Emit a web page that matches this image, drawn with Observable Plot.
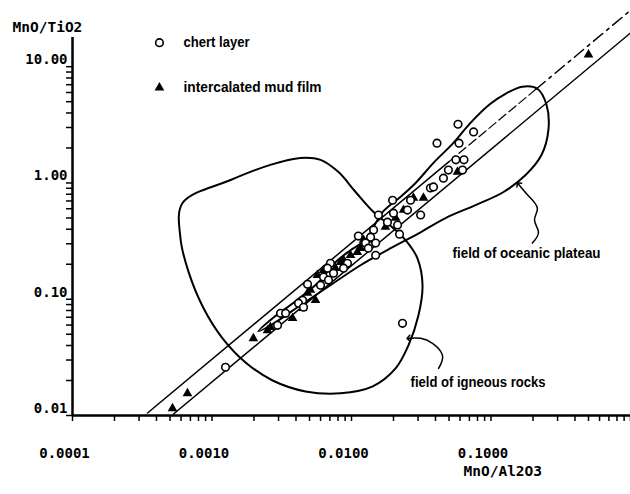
<!DOCTYPE html>
<html><head><meta charset="utf-8">
<script src="https://cdn.jsdelivr.net/npm/d3@7"></script>
<script src="https://cdn.jsdelivr.net/npm/@observablehq/plot@0.6"></script>
<style>
html,body{margin:0;padding:0;background:#fff;}
</style></head><body><div id="chart"></div>
<script>
// ---- data (MnO/Al2O3 = x, MnO/TiO2 = y) ----
const chertX = [0.058,0.075,0.041,0.059,0.064,0.056,0.0625,0.0495,0.0456,0.0368,0.0387,0.0313,0.0197,0.0265,0.0252,0.020,0.0181,0.0214,0.0156,0.0221,0.0144,0.0137,0.0126,0.0149,0.0132,0.0112,0.0149,0.00935,0.00877,0.00706,0.00673,0.00743,0.0063,0.006,0.00684,0.00484,0.00446,0.00417,0.00453,0.0031,0.00337,0.00295,0.0232,0.00125];
const chertY = [3.2,2.75,2.2,2.2,1.58,1.58,1.29,1.29,1.10,0.905,0.925,0.53,0.71,0.71,0.585,0.55,0.46,0.435,0.53,0.363,0.394,0.342,0.304,0.304,0.275,0.349,0.239,0.204,0.185,0.204,0.185,0.1675,0.155,0.132,0.146,0.1345,0.098,0.0925,0.0853,0.0757,0.0757,0.0597,0.062,0.026];
const mudX = [0.000521,0.000667,0.00198,0.0025,0.00262,0.00446,0.00552,0.00484,0.00508,0.0057,0.0063,0.00877,0.00984,0.0110,0.0122,0.0137,0.0175,0.0236,0.0278,0.0328,0.0575,0.5,0.00834,0.00767,0.0116,0.0207,0.00378];
const mudY = [0.0115,0.0155,0.0461,0.054,0.0574,0.0836,0.098,0.113,0.12,0.161,0.178,0.217,0.239,0.254,0.323,0.323,0.418,0.585,0.743,0.743,1.245,12.7,0.208,0.185,0.275,0.5,0.0686];

// field of igneous rocks (outline)
const igneousX = [6.15e-4,1.36e-3,2.62e-3,4.3e-3,6.0e-3,8.07e-3,0.0107,0.0144,0.0191,0.0244,0.0297,0.0323,0.0302,0.0256,0.0207,0.0142,0.00834,0.00468,0.00272,0.00174,0.00119,8.7e-4,6.8e-4,5.94e-4];
const igneousY = [0.673,1.06,1.43,1.64,1.58,1.24,0.836,0.562,0.426,0.323,0.225,0.132,0.0728,0.0401,0.0254,0.0178,0.0155,0.0161,0.02,0.0286,0.0461,0.0836,0.171,0.336];
// field of oceanic plateau (outline)
const plateauX = [0.00215,0.00272,0.00397,0.0058,0.00767,0.00984,0.0126,0.0167,0.0224,0.0288,0.0387,0.0538,0.0713,0.099,0.127,0.168,0.215,0.25,0.258,0.23,0.177,0.123,0.0775,0.0472,0.0288,0.0191,0.0116,0.00706,0.0043,0.00285];
const plateauY = [0.053,0.0686,0.0962,0.140,0.208,0.264,0.323,0.562,0.757,1.0,1.49,2.21,3.29,4.8,5.85,6.73,6.46,4.7,2.86,1.74,1.17,0.836,0.645,0.499,0.356,0.275,0.196,0.132,0.0887,0.0634];

// reference lines
const lineAX = [0.000345,0.05,0.21,0.97];
const lineAY = [0.0105,1.525,6.4,29.6];
const lineBX = [0.00053,1.0];
const lineBY = [0.0103,19.5];

// annotation arrows
const plateauArrowX = [0.198,0.219,0.205,0.215,0.186,0.157];
const plateauArrowY = [0.304,0.378,0.48,0.608,0.773,0.98];
const igneousArrowX = [0.0421,0.0449,0.0381,0.0313,0.0256];
const igneousArrowY = [0.0254,0.0329,0.0418,0.0461,0.0461];

// labels
const fieldLabels = ["field of oceanic plateau","field of igneous rocks"];
const fieldLabelX = [0.053,0.0265];
const fieldLabelY = [0.249,0.0192];
const legendLabels = ["chert layer","intercalated mud film"];
const legendSymX = 4.2e-4, legendTextX = 6.25e-4;
const legendY = [16.1,6.6];
const xTitle = "MnO/Al2O3", yTitle = "MnO/TiO2";
const xTitleX = 0.0635;

// ticks
const xDecades = [0.0001,0.001,0.01,0.1];
const xLabels = ["0.0001","0.0010","0.0100","0.1000"];
const yDecades = [0.01,0.1,1,10];
const yLabels = ["0.01","0.10","1.00","10.00"];
const mult = [1,2,3,4,5,6,7,8,9];
const xMinor = xDecades.flatMap(d => mult.map(m => d*m)).concat([1]);
const yMinor = [0.01,0.1,1].flatMap(d => mult.map(m => d*m)).concat([10]);

const pts = (xs, ys) => xs.map((x,i) => ({x, y: ys[i]}));
const chert = pts(chertX, chertY), mud = pts(mudX, mudY);
const igneous = pts(igneousX, igneousY), plateau = pts(plateauX, plateauY);
const lineA = pts(lineAX, lineAY), lineB = pts(lineBX, lineBY);

const mono = "'DejaVu Sans Mono', monospace";
const narrow = "'Liberation Sans', Arial, sans-serif";

const chart = Plot.plot({
  width: 630, height: 494,
  marginLeft: 72, marginRight: 0, marginTop: 5, marginBottom: 79,
  x: {type: "log", domain: [1e-4, 1], axis: null},
  y: {type: "log", domain: [0.01, 33.6], axis: null},
  style: {background: "white", color: "black"},
  marks: [
    // axes
    Plot.ruleY([0.01], {strokeWidth: 2.5}),
    Plot.ruleX([1e-4], {y1: 0.01, y2: 17.8, strokeWidth: 2.5}),
    Plot.axisX(xMinor, {tickSize: 6, strokeWidth: 1.5, tickFormat: () => "", label: null}),
    Plot.axisX(xDecades, {tickSize: 0, tickPadding: 33, dx: -8, label: null,
      tickFormat: d => xLabels[xDecades.indexOf(d)], fontFamily: mono, fontSize: 14, fontWeight: "bold"}),
    Plot.axisY(yMinor, {tickSize: 6, strokeWidth: 1.5, tickFormat: () => "", label: null}),
    Plot.axisY(yDecades, {tickSize: 0, tickPadding: 5, dy: -7, label: null,
      tickFormat: d => yLabels[yDecades.indexOf(d)], fontFamily: mono, fontSize: 14, fontWeight: "bold"}),
    // fields
    Plot.line(igneous, {x: "x", y: "y", curve: "catmull-rom-closed", strokeWidth: 2}),
    Plot.line(plateau, {x: "x", y: "y", curve: "catmull-rom-closed", strokeWidth: 2}),
    // reference lines
    Plot.line(lineA.slice(0,2), {x: "x", y: "y", strokeWidth: 1.5}),
    Plot.line(lineA.slice(1,3), {x: "x", y: "y", strokeWidth: 1.2, strokeDasharray: "9,4"}),
    Plot.line(lineA.slice(2,4), {x: "x", y: "y", strokeWidth: 1.5, strokeDasharray: "12,5,3,5"}),
    Plot.line(lineB, {x: "x", y: "y", strokeWidth: 1.5}),
    // arrows
    Plot.line(pts(plateauArrowX, plateauArrowY), {x: "x", y: "y", curve: "natural", strokeWidth: 1.5, markerEnd: "arrow"}),
    Plot.line(pts(igneousArrowX, igneousArrowY), {x: "x", y: "y", curve: "natural", strokeWidth: 1.5, markerEnd: "arrow"}),
    // points
    Plot.dot(mud, {x: "x", y: "y", symbol: "triangle", fill: "black", r: 3.6}),
    Plot.dot(chert, {x: "x", y: "y", r: 3.8, stroke: "black", fill: "white", strokeWidth: 1.6}),
    // legend
    Plot.dot([0], {x: legendSymX, y: legendY[0], r: 3.8, stroke: "black", fill: "white", strokeWidth: 1.6}),
    Plot.dot([0], {x: legendSymX, y: legendY[1], symbol: "triangle", fill: "black", r: 3.6}),
    Plot.text(legendLabels, {x: legendTextX, y: (d,i) => legendY[i], text: d => d, textAnchor: "start",
      fontFamily: narrow, fontSize: 15, fontWeight: "bold"}),
    // field labels
    Plot.text(fieldLabels, {x: (d,i) => fieldLabelX[i], y: (d,i) => fieldLabelY[i], text: d => d, textAnchor: "start",
      fontFamily: narrow, fontSize: 15, fontWeight: "bold"}),
    // axis titles
    Plot.text([yTitle], {frameAnchor: "top-left", dx: -60, dy: 16, textAnchor: "start", text: d => d,
      fontFamily: mono, fontSize: 14.5, fontWeight: "bold"}),
    Plot.text([xTitle], {x: xTitleX, frameAnchor: "bottom", dy: 60, textAnchor: "start", text: d => d,
      fontFamily: mono, fontSize: 14.5, fontWeight: "bold"})
  ]
});
// condense the hand-lettered labels to the widths seen in the figure
const textWidths = {"chert layer": 66, "intercalated mud film": 138, "field of oceanic plateau": 148, "field of igneous rocks": 135};
d3.select(chart).selectAll("text").each(function() {
  const w = textWidths[this.textContent];
  if (w) { this.setAttribute("textLength", w); this.setAttribute("lengthAdjust", "spacingAndGlyphs"); }
});
document.getElementById("chart").appendChild(chart);
</script>
</body></html>
